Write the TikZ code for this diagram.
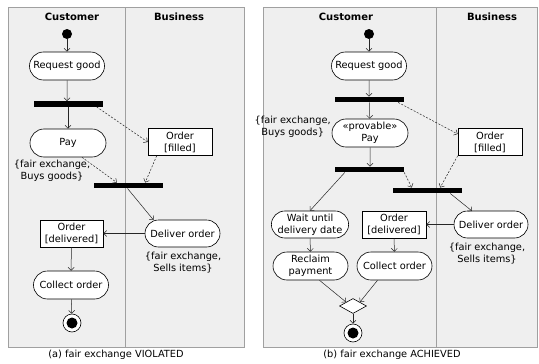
\documentclass[tikz,border=0pt]{standalone}
\usepackage{fontspec}
\setmainfont{DejaVu Sans}
\usetikzlibrary{arrows.meta,positioning,calc,shapes.geometric,shapes.misc}
\definecolor{lanefill}{HTML}{EFEFEF}
\definecolor{laneline}{HTML}{A0A0A0}
\tikzset{
  act/.style={draw,fill=white,rounded rectangle,line width=0.6pt,align=center,font=\fontsize{9.8}{12}\selectfont,minimum width=77pt,minimum height=28pt,inner sep=1pt},
  obj/.style={draw,fill=white,rectangle,line width=0.6pt,align=center,font=\fontsize{9.8}{12}\selectfont,minimum width=64pt,minimum height=27pt,inner sep=1pt},
  bar/.style={fill=black,rectangle,minimum width=69pt,minimum height=5.5pt,inner sep=0},
  start/.style={circle,fill=black,minimum size=10pt,inner sep=0},
  stop/.style={circle,draw,fill=white,line width=0.6pt,minimum size=18pt,inner sep=0,path picture={\fill[black] (path picture bounding box.center) circle (5.5pt);}},
  merge/.style={diamond,draw,fill=white,line width=0.6pt,minimum width=27pt,minimum height=15pt,inner sep=0},
  note/.style={align=center,font=\fontsize{9.8}{12}\selectfont},
  lane/.style={font=\bfseries\fontsize{10}{12}\selectfont},
  arr/.style={-{Straight Barb[length=3pt,width=6pt]},line width=0.5pt,draw=black!85},
  darr/.style={arr,dashed,dash pattern=on 2pt off 1.5pt},
}
\begin{document}
\begin{tikzpicture}[x=1pt,y=-1pt]
  \useasboundingbox (0,0) rectangle (539,364);
  % swimlanes
  \draw[laneline,fill=lanefill,line width=0.7pt] (8,7) rectangle (244,347);
  \draw[laneline,line width=0.7pt] (125,7) -- (125,347);
  \draw[laneline,fill=lanefill,line width=0.7pt] (263,7) rectangle (537,347);
  \draw[laneline,line width=0.7pt] (436,7) -- (436,347);
  \node[lane] (custA) at (72,17) {Customer};
  \node[lane] (busA) at (179,17) {Business};
  \node[lane] (custB) at (346,17) {Customer};
  \node[lane] (busB) at (492,17) {Business};

  % (a) fair exchange violated
  \node[start] (initA) at (67,34) {};
  \node[act] (reqA) at (67,66) {Request good};
  \node[bar] (forkA) at (68,104) {};
  \node[act,minimum width=78pt] (payA) at (68,143) {Pay};
  \node[obj] (filledA) at (180,142) {Order\\{[filled]}};
  \node[note] (buysA) at (52,171) {\{fair exchange,\\Buys goods\}};
  \node[bar] (joinA) at (128.5,185.5) {};
  \node[obj,minimum width=63pt] (delivA) at (71.5,233.5) {Order\\{[delivered]}};
  \node[act,minimum height=27pt] (deliverA) at (182.5,233.5) {Deliver order};
  \node[note] (sellsA) at (183,263) {\{fair exchange,\\Sells items\}};
  \node[act] (collectA) at (71,285) {Collect order};
  \node[stop] (finalA) at (72,323) {};
  \node (capA) at (116,355) {\fontsize{9.8}{12}\selectfont(a) fair exchange VIOLATED};

  \draw[arr] (initA) -- (reqA);
  \draw[arr] (reqA) -- (forkA.north -| reqA);
  \draw[arr] (forkA) -- (payA);
  \draw[darr] ($(forkA.south east)+(-6,0)$) -- (filledA.west);
  \draw[darr] ($(payA.south east)+(-10,0)$) -- ($(joinA.north west)+(23,0)$);
  \draw[darr] ($(filledA.south west)+(9,0)$) -- ($(joinA.north east)+(-18,0)$);
  \draw[arr] ($(joinA.south)+(-1,0)$) -- ($(deliverA.center)+(-29,-13.5)$);
  \draw[arr] (deliverA) -- (delivA);
  \draw[arr] (delivA) -- (collectA);
  \draw[arr] (collectA) -- (finalA);

  % (b) fair exchange achieved
  \node[start] (initB) at (369,34) {};
  \node[act] (reqB) at (369,66) {Request good};
  \node[bar] (forkB) at (369.5,99.5) {};
  \node[act,minimum width=78pt] (payB) at (370,133) {«provable»\\Pay};
  \node[note,anchor=east,inner sep=0] (buysB) at (331,127) {\{fair exchange,\\Buys goods\}};
  \node[obj] (filledB) at (490,142) {Order\\{[filled]}};
  \node[bar] (splitB) at (369.5,169.5) {};
  \node[bar] (joinB) at (427.5,190.5) {};
  \node[act,minimum width=76pt,minimum height=27pt] (waitB) at (310,224.5) {Wait until\\delivery date};
  \node[obj] (delivB) at (394,224.5) {Order\\{[delivered]}};
  \node[act,minimum width=76pt,minimum height=27pt] (deliverB) at (491,224.5) {Deliver order};
  \node[note] (sellsB) at (487,254) {\{fair exchange,\\Sells items\}};
  \node[act] (reclaimB) at (310.5,266) {Reclaim\\payment};
  \node[act] (collectB) at (394.5,266) {Collect order};
  \node[merge] (mergeB) at (353,306) {};
  \node[stop] (finalB) at (353,333) {};
  \node (capB) at (392,355) {\fontsize{9.8}{12}\selectfont(b) fair exchange ACHIEVED};

  \draw[arr] (initB) -- (reqB);
  \draw[arr] (reqB) -- (forkB.north -| reqB);
  \draw[arr] (forkB) -- (payB);
  \draw[darr] ($(forkB.south east)+(-6,0)$) -- ($(filledB.west)+(0,-8)$);
  \draw[arr] (payB) -- (splitB.north -| payB);
  \draw[arr] ($(splitB.south west)+(10,0)$) -- (waitB.north);
  \draw[darr] (splitB.south east) -- ($(joinB.north west)+(19,0)$);
  \draw[darr] (filledB.south west) -- ($(joinB.north east)+(-22,0)$);
  \draw[arr] ($(joinB.south east)+(-12,0)$) -- ($(deliverB.center)+(-19,-13.5)$);
  \draw[arr] (deliverB) -- (delivB);
  \draw[arr] (delivB) -- (collectB);
  \draw[arr] (waitB) -- (reclaimB);
  \draw[arr] ($(reclaimB.south)+(9,0)$) -- (mergeB.north west);
  \draw[arr] ($(collectB.south)+(-17,0)$) -- (mergeB.north east);
  \draw[arr] (mergeB) -- (finalB);
\end{tikzpicture}
\end{document}
